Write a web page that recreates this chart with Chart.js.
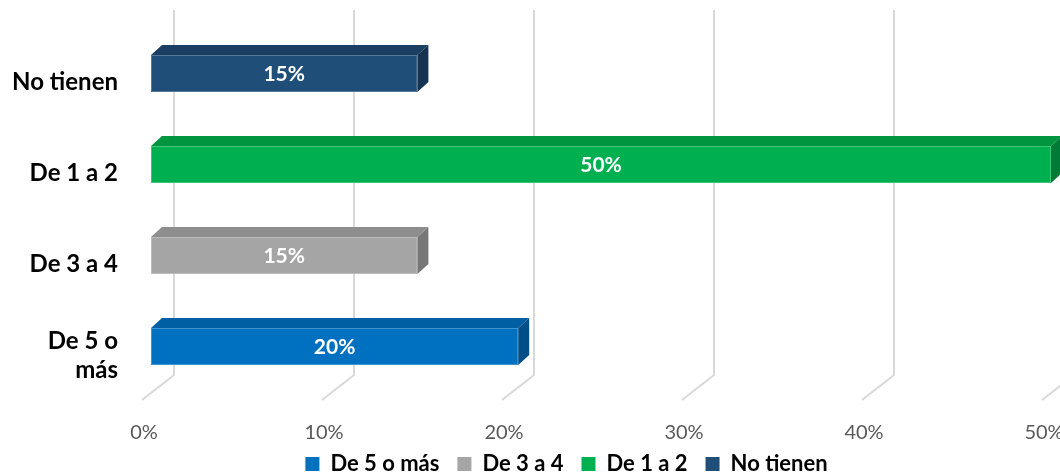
<!DOCTYPE html>
<html>
<head>
<meta charset="utf-8">
<script src="https://cdn.jsdelivr.net/npm/chart.js@4.4.0/dist/chart.umd.min.js"></script>
<style>
  html, body { margin: 0; padding: 0; background: #fff; }
  #wrap { width: 1060px; height: 472px; }
</style>
</head>
<body>
<div id="wrap"><canvas id="chart"></canvas></div>
<script>
/* ── DATA ── */
const categories = [['De 5 o', 'más'], 'De 3 a 4', 'De 1 a 2', 'No tienen'];
const legendNames = ['De 5 o más', 'De 3 a 4', 'De 1 a 2', 'No tienen'];
const values = [20.4, 14.8, 50, 14.8];
const xTicks = [0, 10, 20, 30, 40, 50];

// front / top / side face colours per bar
const frontColors = ['#0070C0', '#A5A5A5', '#00B050', '#1F4E79'];
const topColors   = ['#005EA3', '#8E8E8E', '#00963F', '#1A3F63'];
const sideColors  = ['#004E88', '#777777', '#007A34', '#163452'];

// 3D depth of the bars and of the back wall
const DX = 11, DY = 10;
const WALL_TOP = 10, WALL_BOTTOM = 375, FLOOR_Y = 400;

const bars3d = {
    id: 'bars3d',
    beforeDatasetsDraw(chart) {
        const { ctx, scales: { x } } = chart;
        ctx.save();
        // gridlines: back wall + floor
        ctx.strokeStyle = '#D9D9D9';
        ctx.lineWidth = 2;
        xTicks.forEach(v => {
            const px = x.getPixelForValue(v);
            ctx.beginPath();
            ctx.moveTo(px + 23, WALL_TOP);
            ctx.lineTo(px + 23, WALL_BOTTOM);
            ctx.lineTo(px - 9, FLOOR_Y);
            ctx.stroke();
        });
        // tick labels
        ctx.fillStyle = '#595959';
        ctx.font = '20px Lato';
        ctx.textAlign = 'center';
        ctx.textBaseline = 'middle';
        xTicks.forEach(v => {
            ctx.fillText(v + '%', x.getPixelForValue(v) - 7, 433);
        });
        ctx.restore();
    },
    afterDatasetsDraw(chart) {
        const { ctx } = chart;
        const meta = chart.getDatasetMeta(0);
        ctx.save();
        meta.data.forEach((bar, i) => {
            const { x, y, base, height } = bar.getProps(['x', 'y', 'base', 'height'], true);
            const top = y - height / 2, bot = y + height / 2;

            // top face
            ctx.fillStyle = topColors[i];
            ctx.beginPath();
            ctx.moveTo(base, top);
            ctx.lineTo(base + DX, top - DY);
            ctx.lineTo(x + DX, top - DY);
            ctx.lineTo(x, top);
            ctx.closePath();
            ctx.fill();

            // right face
            ctx.fillStyle = sideColors[i];
            ctx.beginPath();
            ctx.moveTo(x, top);
            ctx.lineTo(x + DX, top - DY);
            ctx.lineTo(x + DX, bot - DY);
            ctx.lineTo(x, bot);
            ctx.closePath();
            ctx.fill();

            // faint edge
            ctx.strokeStyle = 'rgba(255,255,255,0.25)';
            ctx.lineWidth = 1;
            ctx.strokeRect(base + 0.5, top + 0.5, x - base - 1, height - 1);

            // value label
            ctx.fillStyle = '#FFFFFF';
            ctx.font = 'bold 21px Lato';
            ctx.textAlign = 'center';
            ctx.textBaseline = 'middle';
            ctx.fillText(Math.round(values[i]) + '%', (base + x) / 2, y + 1);
        });
        ctx.restore();
    }
};

// move the legend to where the reference has it
const legendShift = {
    id: 'legendShift',
    afterLayout(chart) {
        const lg = chart.legend;
        lg.left += 41; lg.right += 41;
        lg.top += 13; lg.bottom += 13;
    }
};

const ctx = document.getElementById('chart').getContext('2d');
new Chart(ctx, {
    type: 'bar',
    data: {
        labels: categories,
        datasets: [{
            data: values,
            backgroundColor: frontColors,
            borderWidth: 0,
            categoryPercentage: 1,
            barPercentage: 0.407
        }]
    },
    options: {
        indexAxis: 'y',
        responsive: true,
        maintainAspectRatio: false,
        animation: false,
        layout: { padding: { top: 28, right: 9, left: 0, bottom: 0 } },
        scales: {
            x: {
                min: 0,
                max: 50,
                grid: { display: false },
                border: { display: false },
                ticks: { display: false },
                afterFit(s) {
                    s.height = Math.max(0, 80 - s.chart.legend.height);
                    s.paddingLeft = 0; s.paddingRight = 0;
                }
            },
            y: {
                reverse: true,
                grid: { display: false },
                border: { display: false },
                ticks: {
                    color: '#000',
                    font: { family: 'Lato', size: 24, weight: 'bold' },
                    padding: 25,
                    labelOffset: 9
                },
                afterFit(s) {
                    s.width = 151;
                    s.paddingTop = 0; s.paddingBottom = 0;
                }
            }
        },
        plugins: {
            legend: {
                position: 'bottom',
                labels: {
                    color: '#000',
                    font: { family: 'Lato', size: 22, weight: 'bold' },
                    boxWidth: 14,
                    boxHeight: 14,
                    padding: 18,
                    generateLabels: () => legendNames.map((name, i) => ({
                        text: name,
                        fillStyle: frontColors[i],
                        strokeStyle: frontColors[i],
                        lineWidth: 0,
                        index: i
                    }))
                }
            },
            tooltip: { enabled: false }
        }
    },
    plugins: [bars3d, legendShift]
});
</script>
</body>
</html>
